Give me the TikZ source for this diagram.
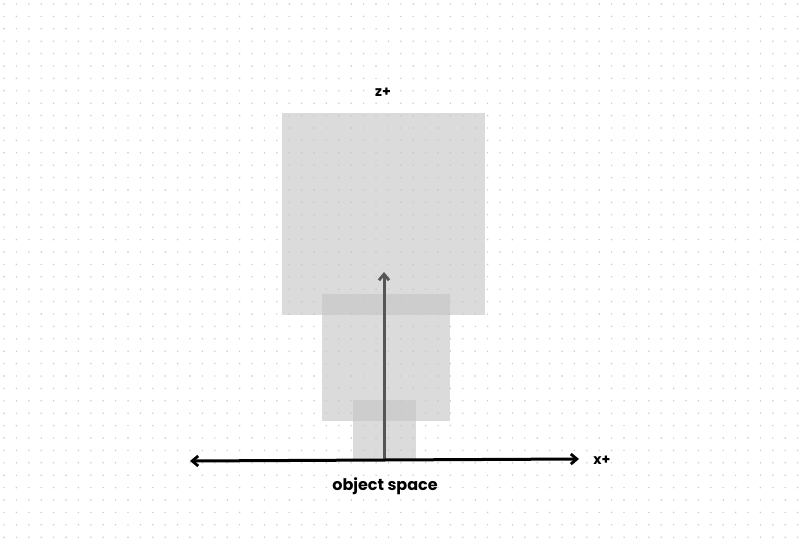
\documentclass[tikz,border=0pt]{standalone}
\usepackage{fontspec}
\setmainfont{Poppins}
\usetikzlibrary{arrows.meta}
\definecolor{boxgray}{HTML}{C4C4C4}
\definecolor{dotgray}{HTML}{C8C8C8}
\definecolor{axisgray}{HTML}{555555}
\tikzset{
  panel/.style={fill=boxgray,fill opacity=0.6,draw=none},
  axis/.style={line width=3pt},
  lbl/.style={font=\bfseries\fontsize{14}{16}\selectfont,inner sep=0pt}
}
\begin{document}
\begin{tikzpicture}[x=1pt,y=-1pt]
\useasboundingbox (0,0) rectangle (800,545);
\fill[white] (0,0) rectangle (800,545);
\foreach \i in {0,...,65}{
  \foreach \j in {0,...,44}{
    \fill[dotgray] (4+\i*12.4,4+\j*12.4) circle (0.8);
  }
}
\path[panel] (282,113) rectangle (485,315);
\path[panel] (322,294) rectangle (450,421);
\path[panel] (353,400) rectangle (416,461);
\coordinate (vb) at (384,461);
\coordinate (vt) at (384,272);
\draw[axis,axisgray,-{Straight Barb[length=6pt,width=10pt,line width=2.8pt]}] (vb) -- (vt);
\coordinate (xl) at (190,461);
\coordinate (xr) at (579,459);
\draw[axis,black,{Straight Barb[length=6pt,width=10pt,line width=2.8pt]}-{Straight Barb[length=6pt,width=10pt,line width=2.8pt]}] (xl) -- (xr);
\node[lbl] (zlab) at (383,92) {z+};
\node[lbl] (xlab) at (602,460) {x+};
\node[lbl,font=\bfseries\fontsize{16}{19}\selectfont] (olab) at (385,486) {object space};
\end{tikzpicture}
\end{document}
